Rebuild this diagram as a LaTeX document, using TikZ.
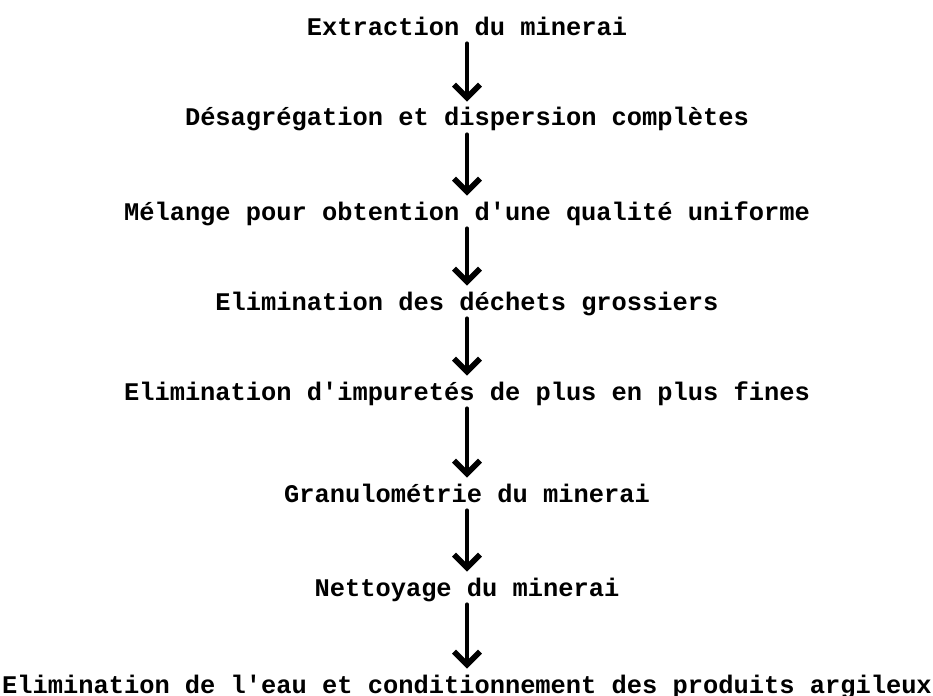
\documentclass[tikz,border=0pt]{standalone}
\usepackage{fontspec}
\setmonofont{Liberation Mono}
\usetikzlibrary{arrows.meta}

\begin{document}
\begin{tikzpicture}[x=0.5pt, y=-0.5pt,
	etape/.style={font=\ttfamily\bfseries\fontsize{12.7}{15}\selectfont, inner sep=0pt,
		text height=8pt, text depth=0pt, minimum height=16pt},
	fleche/.style={-{Straight Barb[length=6.5pt, width=13pt, line width=2.8pt]}, line width=2pt, line cap=round}]
	\useasboundingbox (0,0) rectangle (933,696);
	\node [etape] (extraction) at (467,27) {Extraction du minerai};
	\node [etape] (desagregation) at (467,118) {Désagrégation et dispersion complètes};
	\node [etape] (melange) at (467,212) {Mélange pour obtention d'une qualité uniforme};
	\node [etape] (dechets) at (467,302) {Elimination des déchets grossiers};
	\node [etape] (impuretes) at (467,392) {Elimination d'impuretés de plus en plus fines};
	\node [etape] (granulo) at (467,494) {Granulométrie du minerai};
	\node [etape] (nettoyage) at (467,588) {Nettoyage du minerai};
	\node [etape] (eau) at (467,685) {Elimination de l'eau et conditionnement des produits argileux};
	\draw [fleche] (extraction) -- (desagregation);
	\draw [fleche] (desagregation) -- (melange);
	\draw [fleche] (melange) -- (dechets);
	\draw [fleche] (dechets) -- (impuretes);
	\draw [fleche] (impuretes) -- (granulo);
	\draw [fleche] (granulo) -- (nettoyage);
	\draw [fleche] (nettoyage) -- (eau);
\end{tikzpicture}
\end{document}
